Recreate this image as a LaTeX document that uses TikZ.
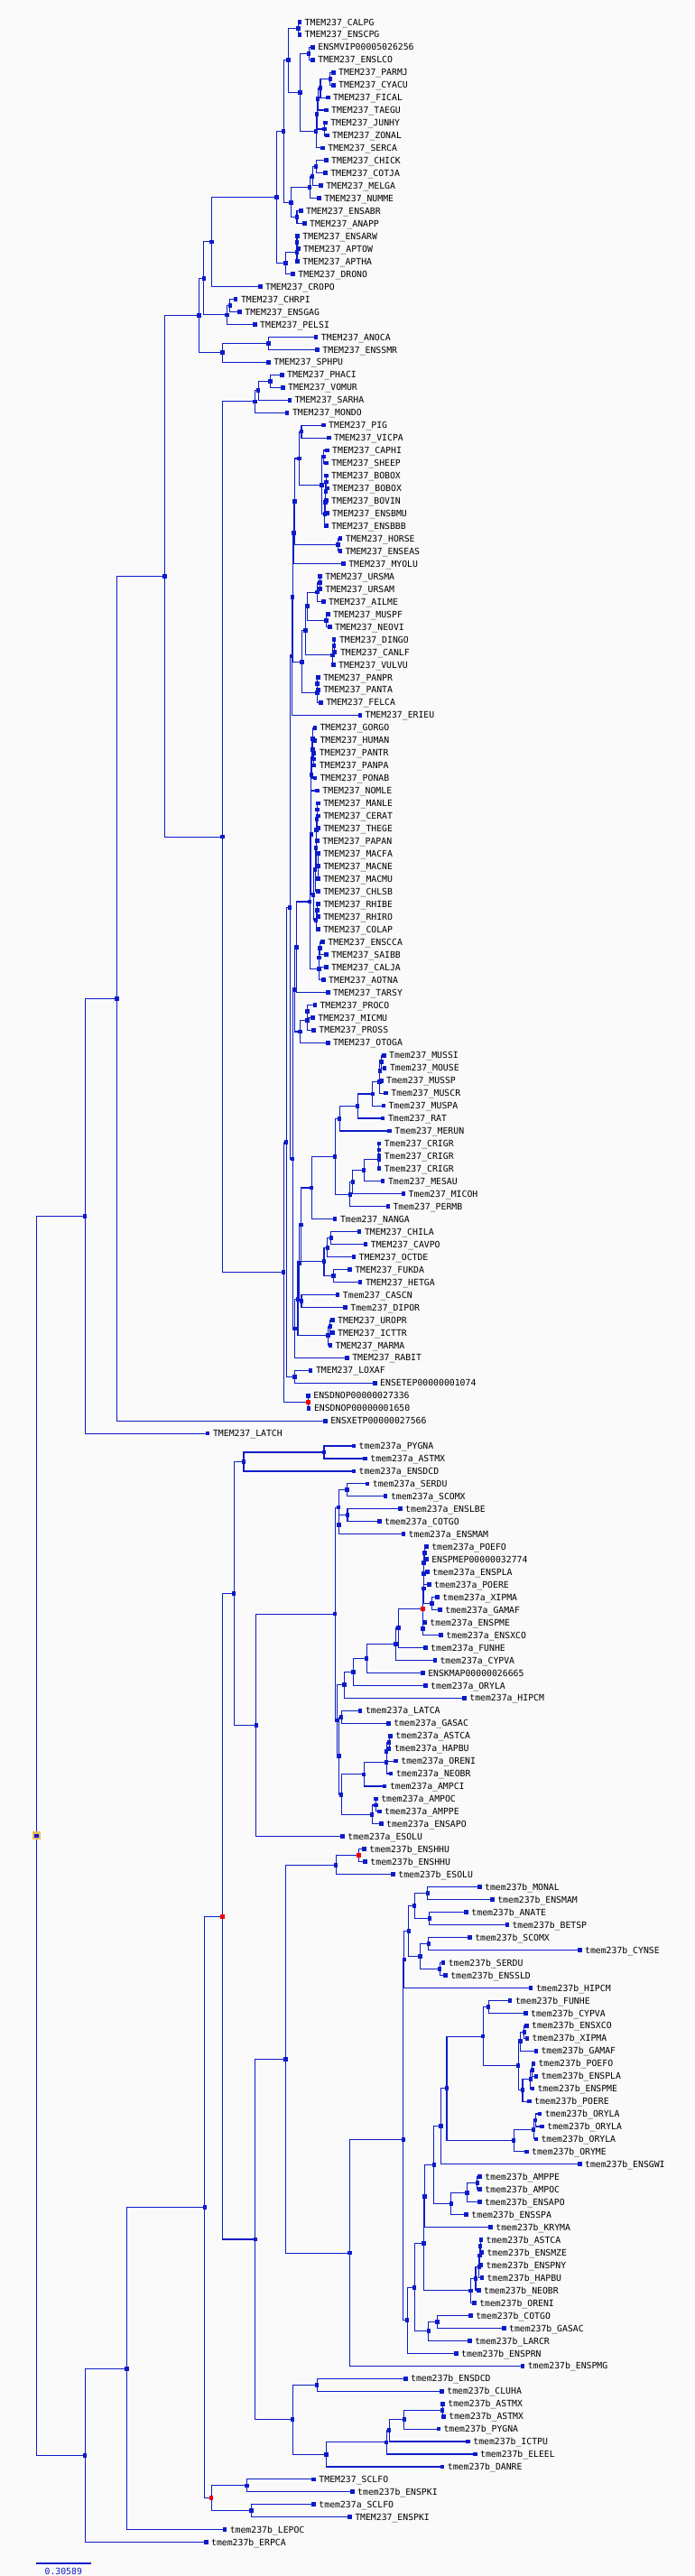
\documentclass[tikz,border=0pt]{standalone}
\usepackage{fontspec}
\newfontfamily\lblfont{DejaVu Sans Mono}
\usetikzlibrary{calc}
\pgfdeclarelayer{back}
\pgfdeclarelayer{bg}
\pgfsetlayers{back,bg,main}
\definecolor{tb}{RGB}{12,28,200}
\definecolor{bgc}{RGB}{250,250,250}
\definecolor{goldc}{RGB}{230,190,90}
\definecolor{redc}{RGB}{240,0,0}
\tikzset{
 mk/.style={rectangle, fill=tb, inner sep=0pt, minimum width=4.4pt, minimum height=4.8pt},
 mkred/.style={mk, fill=redc},
 mkroot/.style={rectangle, fill=tb, draw=goldc, line width=2.2pt, inner sep=0pt, minimum width=7pt, minimum height=6.5pt},
 edge/.style={draw=tb, line width=1.1pt},
 lbl/.style={anchor=base west, inner sep=0pt, text=black, font=\lblfont\fontsize{9.8}{10}\selectfont},
}
\newcommand\LF[4]{%
 \node[mk] (#1) at (#3,{-(24.3+13.962*(#2-1))}) {};
 \node[lbl] (#1t) at ([xshift=5.6pt,yshift=-3.7pt]#1.center) {\detokenize{#4}};}
\newcommand\TN[5][mk]{%
 \path let \p1=(#4), \p2=(#5) in node[#1] (#2) at (#3,{0.5*(\y1+\y2)}) {};
 \begin{pgfonlayer}{bg}
 \draw[edge] (#2.center) |- (#4.center);
 \draw[edge] (#2.center) |- (#5.center);
 \end{pgfonlayer}}
\newcommand\TNM[6][mk]{%
 \path let \p1=(#4), \p2=(#6) in node[#1] (#2) at (#3,{0.5*(\y1+\y2)}) {};
 \begin{pgfonlayer}{bg}
 \draw[edge] (#2.center) |- (#4.center);
 \draw[edge] (#2.center) |- (#5.center);
 \draw[edge] (#2.center) |- (#6.center);
 \end{pgfonlayer}}
\begin{document}
\begin{tikzpicture}[x=1.4732pt,y=1pt]
\begin{pgfonlayer}{back}
\fill[bgc] (0,0) rectangle (522.67,-2854);
\end{pgfonlayer}
\useasboundingbox (0,0) rectangle (522.67,-2854);
% leaves
\LF{l1}{1}{225.3}{TMEM237_CALPG}
\LF{l2}{2}{225.3}{TMEM237_ENSCPG}
\LF{l3}{3}{235.3}{ENSMVIP00005026256}
\LF{l4}{4}{235.3}{TMEM237_ENSLCO}
\LF{l5}{5}{250.7}{TMEM237_PARMJ}
\LF{l6}{6}{250.7}{TMEM237_CYACU}
\LF{l7}{7}{246.7}{TMEM237_FICAL}
\LF{l8}{8}{245.3}{TMEM237_TAEGU}
\LF{l9}{9}{244.7}{TMEM237_JUNHY}
\LF{l10}{10}{246}{TMEM237_ZONAL}
\LF{l11}{11}{242.7}{TMEM237_SERCA}
\LF{l12}{12}{245.3}{TMEM237_CHICK}
\LF{l13}{13}{244.7}{TMEM237_COTJA}
\LF{l14}{14}{241.3}{TMEM237_MELGA}
\LF{l15}{15}{240}{TMEM237_NUMME}
\LF{l16}{16}{226.3}{TMEM237_ENSABR}
\LF{l17}{17}{229}{TMEM237_ANAPP}
\LF{l18}{18}{223.7}{TMEM237_ENSARW}
\LF{l19}{19}{224.3}{TMEM237_APTOW}
\LF{l20}{20}{223.7}{TMEM237_APTHA}
\LF{l21}{21}{220.3}{TMEM237_DRONO}
\LF{l22}{22}{195.7}{TMEM237_CROPO}
\LF{l23}{23}{177.3}{TMEM237_CHRPI}
\LF{l24}{24}{180.3}{TMEM237_ENSGAG}
\LF{l25}{25}{191.7}{TMEM237_PELSI}
\LF{l26}{26}{237.7}{TMEM237_ANOCA}
\LF{l27}{27}{238.7}{TMEM237_ENSSMR}
\LF{l28}{28}{202}{TMEM237_SPHPU}
\LF{l29}{29}{212}{TMEM237_PHACI}
\LF{l30}{30}{212.7}{TMEM237_VOMUR}
\LF{l31}{31}{217.7}{TMEM237_SARHA}
\LF{l32}{32}{216}{TMEM237_MONDO}
\LF{l33}{33}{243.3}{TMEM237_PIG}
\LF{l34}{34}{247.3}{TMEM237_VICPA}
\LF{l35}{35}{246}{TMEM237_CAPHI}
\LF{l36}{36}{245.3}{TMEM237_SHEEP}
\LF{l37}{37}{245.3}{TMEM237_BOBOX}
\LF{l38}{38}{246}{TMEM237_BOBOX}
\LF{l39}{39}{245.3}{TMEM237_BOVIN}
\LF{l40}{40}{246}{TMEM237_ENSBMU}
\LF{l41}{41}{245.3}{TMEM237_ENSBBB}
\LF{l42}{42}{256}{TMEM237_HORSE}
\LF{l43}{43}{255.7}{TMEM237_ENSEAS}
\LF{l44}{44}{258.3}{TMEM237_MYOLU}
\LF{l45}{45}{240.7}{TMEM237_URSMA}
\LF{l46}{46}{240.7}{TMEM237_URSAM}
\LF{l47}{47}{243.3}{TMEM237_AILME}
\LF{l48}{48}{246.7}{TMEM237_MUSPF}
\LF{l49}{49}{248}{TMEM237_NEOVI}
\LF{l50}{50}{251.3}{TMEM237_DINGO}
\LF{l51}{51}{252}{TMEM237_CANLF}
\LF{l52}{52}{250.7}{TMEM237_VULVU}
\LF{l53}{53}{239.3}{TMEM237_PANPR}
\LF{l54}{54}{239.3}{TMEM237_PANTA}
\LF{l55}{55}{241.3}{TMEM237_FELCA}
\LF{l56}{56}{270.7}{TMEM237_ERIEU}
\LF{l57}{57}{236.7}{TMEM237_GORGO}
\LF{l58}{58}{236.7}{TMEM237_HUMAN}
\LF{l59}{59}{236.2}{TMEM237_PANTR}
\LF{l60}{60}{236.2}{TMEM237_PANPA}
\LF{l61}{61}{236.7}{TMEM237_PONAB}
\LF{l62}{62}{238.7}{TMEM237_NOMLE}
\LF{l63}{63}{239.3}{TMEM237_MANLE}
\LF{l64}{64}{239.3}{TMEM237_CERAT}
\LF{l65}{65}{239.3}{TMEM237_THEGE}
\LF{l66}{66}{238.7}{TMEM237_PAPAN}
\LF{l67}{67}{239.3}{TMEM237_MACFA}
\LF{l68}{68}{239.3}{TMEM237_MACNE}
\LF{l69}{69}{239.3}{TMEM237_MACMU}
\LF{l70}{70}{239.3}{TMEM237_CHLSB}
\LF{l71}{71}{239.3}{TMEM237_RHIBE}
\LF{l72}{72}{239.3}{TMEM237_RHIRO}
\LF{l73}{73}{239.3}{TMEM237_COLAP}
\LF{l74}{74}{242.7}{TMEM237_ENSCCA}
\LF{l75}{75}{245.3}{TMEM237_SAIBB}
\LF{l76}{76}{245.3}{TMEM237_CALJA}
\LF{l77}{77}{243.3}{TMEM237_AOTNA}
\LF{l78}{78}{246.7}{TMEM237_TARSY}
\LF{l79}{79}{236.7}{TMEM237_PROCO}
\LF{l80}{80}{235.3}{TMEM237_MICMU}
\LF{l81}{81}{236}{TMEM237_PROSS}
\LF{l82}{82}{246.7}{TMEM237_OTOGA}
\LF{l83}{83}{288.7}{Tmem237_MUSSI}
\LF{l84}{84}{289.3}{Tmem237_MOUSE}
\LF{l85}{85}{286.7}{Tmem237_MUSSP}
\LF{l86}{86}{290.3}{Tmem237_MUSCR}
\LF{l87}{87}{288.3}{Tmem237_MUSPA}
\LF{l88}{88}{288}{Tmem237_RAT}
\LF{l89}{89}{293}{Tmem237_MERUN}
\LF{l90}{90}{285.2}{Tmem237_CRIGR}
\LF{l91}{91}{285.2}{Tmem237_CRIGR}
\LF{l92}{92}{285.2}{Tmem237_CRIGR}
\LF{l93}{93}{288}{Tmem237_MESAU}
\LF{l94}{94}{303.3}{Tmem237_MICOH}
\LF{l95}{95}{291.7}{Tmem237_PERMB}
\LF{l96}{96}{252}{Tmem237_NANGA}
\LF{l97}{97}{270.3}{TMEM237_CHILA}
\LF{l98}{98}{275}{TMEM237_CAVPO}
\LF{l99}{99}{266}{TMEM237_OCTDE}
\LF{l100}{100}{263}{TMEM237_FUKDA}
\LF{l101}{101}{271}{TMEM237_HETGA}
\LF{l102}{102}{254}{Tmem237_CASCN}
\LF{l103}{103}{259.7}{Tmem237_DIPOR}
\LF{l104}{104}{250}{TMEM237_UROPR}
\LF{l105}{105}{250}{TMEM237_ICTTR}
\LF{l106}{106}{248.3}{TMEM237_MARMA}
\LF{l107}{107}{261}{TMEM237_RABIT}
\LF{l108}{108}{233.7}{TMEM237_LOXAF}
\LF{l109}{109}{282}{ENSETEP00000001074}
\LF{l110}{110}{231.9}{ENSDNOP00000027336}
\LF{l111}{111}{232.3}{ENSDNOP00000001650}
\LF{l112}{112}{244.7}{ENSXETP00000027566}
\LF{l113}{113}{156.3}{TMEM237_LATCH}
\LF{l114}{114}{266}{tmem237a_PYGNA}
\LF{l115}{115}{274.7}{tmem237a_ASTMX}
\LF{l116}{116}{266}{tmem237a_ENSDCD}
\LF{l117}{117}{276.3}{tmem237a_SERDU}
\LF{l118}{118}{290}{tmem237a_SCOMX}
\LF{l119}{119}{301}{tmem237a_ENSLBE}
\LF{l120}{120}{285.3}{tmem237a_COTGO}
\LF{l121}{121}{303.3}{tmem237a_ENSMAM}
\LF{l122}{122}{320.7}{tmem237a_POEFO}
\LF{l123}{123}{320.7}{ENSPMEP00000032774}
\LF{l124}{124}{321.3}{tmem237a_ENSPLA}
\LF{l125}{125}{322.7}{tmem237a_POERE}
\LF{l126}{126}{329}{tmem237a_XIPMA}
\LF{l127}{127}{331}{tmem237a_GAMAF}
\LF{l128}{128}{319.5}{tmem237a_ENSPME}
\LF{l129}{129}{331.7}{tmem237a_ENSXCO}
\LF{l130}{130}{320}{tmem237a_FUNHE}
\LF{l131}{131}{327}{tmem237a_CYPVA}
\LF{l132}{132}{318}{ENSKMAP00000026665}
\LF{l133}{133}{320}{tmem237a_ORYLA}
\LF{l134}{134}{349.3}{tmem237a_HIPCM}
\LF{l135}{135}{271}{tmem237a_LATCA}
\LF{l136}{136}{292.3}{tmem237a_GASAC}
\LF{l137}{137}{293.7}{tmem237a_ASTCA}
\LF{l138}{138}{292.7}{tmem237a_HAPBU}
\LF{l139}{139}{297.7}{tmem237a_ORENI}
\LF{l140}{140}{294}{tmem237a_NEOBR}
\LF{l141}{141}{289.3}{tmem237a_AMPCI}
\LF{l142}{142}{282.7}{tmem237a_AMPOC}
\LF{l143}{143}{285.3}{tmem237a_AMPPE}
\LF{l144}{144}{286.7}{tmem237a_ENSAPO}
\LF{l145}{145}{257.7}{tmem237a_ESOLU}
\LF{l146}{146}{274}{tmem237b_ENSHHU}
\LF{l147}{147}{274.7}{tmem237b_ENSHHU}
\LF{l148}{148}{295.7}{tmem237b_ESOLU}
\LF{l149}{149}{360.7}{tmem237b_MONAL}
\LF{l150}{150}{370.3}{tmem237b_ENSMAM}
\LF{l151}{151}{350.7}{tmem237b_ANATE}
\LF{l152}{152}{381.3}{tmem237b_BETSP}
\LF{l153}{153}{353.3}{tmem237b_SCOMX}
\LF{l154}{154}{436}{tmem237b_CYNSE}
\LF{l155}{155}{333.3}{tmem237b_SERDU}
\LF{l156}{156}{335}{tmem237b_ENSSLD}
\LF{l157}{157}{399.3}{tmem237b_HIPCM}
\LF{l158}{158}{383.7}{tmem237b_FUNHE}
\LF{l159}{159}{395.3}{tmem237b_CYPVA}
\LF{l160}{160}{396}{tmem237b_ENSXCO}
\LF{l161}{161}{396.3}{tmem237b_XIPMA}
\LF{l162}{162}{403}{tmem237b_GAMAF}
\LF{l163}{163}{401}{tmem237b_POEFO}
\LF{l164}{164}{403}{tmem237b_ENSPLA}
\LF{l165}{165}{400.3}{tmem237b_ENSPME}
\LF{l166}{166}{398}{tmem237b_POERE}
\LF{l167}{167}{406}{tmem237b_ORYLA}
\LF{l168}{168}{407.7}{tmem237b_ORYLA}
\LF{l169}{169}{403}{tmem237b_ORYLA}
\LF{l170}{170}{396}{tmem237b_ORYME}
\LF{l171}{171}{436}{tmem237b_ENSGWI}
\LF{l172}{172}{360.9}{tmem237b_AMPPE}
\LF{l173}{173}{360.9}{tmem237b_AMPOC}
\LF{l174}{174}{360.7}{tmem237b_ENSAPO}
\LF{l175}{175}{350.7}{tmem237b_ENSSPA}
\LF{l176}{176}{369}{tmem237b_KRYMA}
\LF{l177}{177}{361.7}{tmem237b_ASTCA}
\LF{l178}{178}{362.3}{tmem237b_ENSMZE}
\LF{l179}{179}{361.7}{tmem237b_ENSPNY}
\LF{l180}{180}{362.3}{tmem237b_HAPBU}
\LF{l181}{181}{360}{tmem237b_NEOBR}
\LF{l182}{182}{356.7}{tmem237b_ORENI}
\LF{l183}{183}{354}{tmem237b_COTGO}
\LF{l184}{184}{379}{tmem237b_GASAC}
\LF{l185}{185}{353.3}{tmem237b_LARCR}
\LF{l186}{186}{343}{tmem237b_ENSPRN}
\LF{l187}{187}{393}{tmem237b_ENSPMG}
\LF{l188}{188}{305}{tmem237b_ENSDCD}
\LF{l189}{189}{332.3}{tmem237b_CLUHA}
\LF{l190}{190}{333}{tmem237b_ASTMX}
\LF{l191}{191}{333.7}{tmem237b_ASTMX}
\LF{l192}{192}{329.7}{tmem237b_PYGNA}
\LF{l193}{193}{352}{tmem237b_ICTPU}
\LF{l194}{194}{357.3}{tmem237b_ELEEL}
\LF{l195}{195}{332.7}{tmem237b_DANRE}
\LF{l196}{196}{236}{TMEM237_SCLFO}
\LF{l197}{197}{265}{tmem237b_ENSPKI}
\LF{l198}{198}{236}{tmem237a_SCLFO}
\LF{l199}{199}{263}{TMEM237_ENSPKI}
\LF{l200}{200}{169}{tmem237b_LEPOC}
\LF{l201}{201}{155}{tmem237b_ERPCA}
% birds and reptiles
\TN{a1}{224.3}{l1}{l2}
\TN{a2}{232.3}{l3}{l4}
\TN{a3}{248.3}{l5}{l6}
\TN{a4}{241}{a3}{l7}
\TN{a5}{239}{a4}{l8}
\TN{a6}{244}{l9}{l10}
\TN{a7}{238.3}{a5}{a6}
\TN{a8}{237.7}{a7}{l11}
\TN{a9}{225.7}{a2}{a8}
\TN{a10}{217}{a1}{a9}
\TN{b1}{237.7}{l12}{l13}
\TN{b2}{235}{b1}{l14}
\TN{b3}{233}{b2}{l15}
\TN{b4}{223.3}{l16}{l17}
\TN{b5}{219}{b3}{b4}
\TN{c1}{213.3}{a10}{b5}
\TN{d1}{223.3}{l18}{l19}
\TN{d2}{223.3}{d1}{l20}
\TN{d3}{214.7}{d2}{l21}
\TN{c2}{208}{c1}{d3}
\TN{c3}{159.3}{c2}{l22}
\TN{e1}{173}{l23}{l24}
\TN{e2}{170.7}{e1}{l25}
\TN{c4}{153.3}{c3}{e2}
\TN{f1}{202}{l26}{l27}
\TN{f2}{167.3}{f1}{l28}
\TN{c5}{149.7}{c4}{f2}
% marsupials
\TN{p3}{203.3}{l29}{l30}
\TN{p2}{194.3}{p3}{l31}
\TN{p1}{191.7}{p2}{l32}
% laurasiatheria
\TN{cet1}{226.7}{l33}{l34}
\TN{bv1}{243.3}{l35}{l36}
\TN{bv2}{245.3}{l37}{l38}
\TN{bv3}{245}{bv2}{l39}
\TN{bv4}{244.7}{bv3}{l40}
\TN{bv5}{244.3}{bv4}{l41}
\TN{bov}{242}{bv1}{bv5}
\TN{cet2}{225}{cet1}{bov}
\TN{hor}{254.3}{l42}{l43}
\TN{cet3}{221.7}{cet2}{hor}
\TN{lau2}{221}{cet3}{l44}
\TN{ur1}{240.7}{l45}{l46}
\TN{ur2}{238.7}{ur1}{l47}
\TN{mu1}{245.3}{l48}{l49}
\TN{ca1}{231}{ur2}{mu1}
\TN{cn1}{251.3}{l50}{l51}
\TN{cn2}{250}{cn1}{l52}
\TN{ca2}{229.7}{ca1}{cn2}
\TN{fe1}{238.7}{l53}{l54}
\TN{fe2}{238.7}{fe1}{l55}
\TN{carn}{227}{ca2}{fe2}
\TN{lau1}{220}{lau2}{carn}
\TN{lau0}{219.3}{lau1}{l56}
% primates
\TN{ho1}{236}{l59}{l60}
\TN{ho2}{235.3}{l58}{ho1}
\TN{ho3}{235.3}{l57}{ho2}
\TN{ho4}{234.7}{ho3}{l61}
\TN{hom}{234}{ho4}{l62}
\TN{pa1}{238.7}{l63}{l64}
\TN{pa2}{238.3}{pa1}{l65}
\TN{pa3}{238}{pa2}{l66}
\TNM{mac}{239}{l67}{l68}{l69}
\TN{papi}{237.7}{pa3}{mac}
\TN{cerc1}{237}{papi}{l70}
\TN{co1}{238.7}{l71}{l72}
\TN{co2}{237.7}{co1}{l73}
\TN{cerc}{235.7}{cerc1}{co2}
\TN{cat}{234}{hom}{cerc}
\TN{pl1}{240.7}{l74}{l75}
\TN{pl2}{240}{pl1}{l76}
\TN{pl3}{240}{pl2}{l77}
\TN{sim}{233}{cat}{pl3}
\TN{hap}{223}{sim}{l78}
\TN{le1}{231}{l79}{l80}
\TN{le2}{231}{le1}{l81}
\TN{str}{225.7}{le2}{l82}
\TN{prim}{221.7}{hap}{str}
% glires
\TN{ms1}{286.7}{l83}{l84}
\TN{ms2}{285.7}{ms1}{l85}
\TN{ms3}{285.3}{ms2}{l86}
\TN{ms4}{280.3}{ms3}{l87}
\TN{ms5}{269}{ms4}{l88}
\TN{mur}{255.3}{ms5}{l89}
\TN{cr1}{285}{l90}{l91}
\TN{cr2}{285}{cr1}{l92}
\TN{cr3}{273.7}{cr2}{l93}
\TN{cr4}{265.3}{cr3}{l94}
\TN{cric}{263.3}{cr4}{l95}
\TN{mc}{252}{mur}{cric}
\TN{muro}{234.3}{mc}{l96}
\TN{hy1}{249}{l97}{l98}
\TN{hy2}{246.3}{hy1}{l99}
\TN{hy3}{250.7}{l100}{l101}
\TN{hys}{243.7}{hy2}{hy3}
\TN{r2}{226.3}{muro}{hys}
\TN{r3}{226.7}{l102}{l103}
\TN{r1}{225}{r2}{r3}
\TN{sq1}{248.3}{l104}{l105}
\TN{sq}{246.7}{sq1}{l106}
\TN{rod}{224}{r1}{sq}
\TN{gli}{221.7}{rod}{l107}
\TN{euar}{220}{prim}{gli}
\TN{q2}{218}{lau0}{euar}
\TN{afro}{221.7}{l108}{l109}
\TN{q1}{215.3}{q2}{afro}
\TN[mkred]{dno}{231.7}{l110}{l111}
\TN{q0}{213.3}{q1}{dno}
\TN{m0}{167.3}{p1}{q0}
\TN{h1}{124}{c5}{m0}
\TN{t1}{88}{h1}{l112}
\TN{t2}{64}{t1}{l113}
% tmem237a
\TN{aa0}{243.7}{l114}{l115}
\TN{aa00}{183.3}{aa0}{l116}
\TN{aa1}{261}{l117}{l118}
\TN{aa2}{261.3}{l119}{l120}
\TN{aa3}{255}{aa2}{l121}
\TN{aa4}{254.7}{aa1}{aa3}
\TN{po1}{319.3}{l122}{l123}
\TN{po2}{318.7}{po1}{l124}
\TN{po3}{318.7}{po2}{l125}
\TN{xg}{324.7}{l126}{l127}
\TN{po4}{318.7}{po3}{xg}
\TN{pm}{318}{l128}{l129}
\TN[mkred]{pred}{318}{po4}{pm}
\TN{cy1}{299.7}{pred}{l130}
\TN{cy2}{297.7}{cy1}{l131}
\TN{cy3}{275.7}{cy2}{l132}
\TN{cy4}{265.7}{cy3}{l133}
\TN{cy5}{259}{cy4}{l134}
\TN{lg}{256.7}{l135}{l136}
\TN{ci1}{292.7}{l137}{l138}
\TN{ci2}{290.7}{ci1}{l139}
\TN{ci3}{290.7}{ci2}{l140}
\TN{ci4}{273.7}{ci3}{l141}
\TN{am1}{282.7}{l142}{l143}
\TN{am2}{279.7}{am1}{l144}
\TN{aa7}{256.7}{ci4}{am2}
\TN{aa6}{255}{lg}{aa7}
\TN{aa5}{253.3}{cy5}{aa6}
\TN{aa8}{252}{aa4}{aa5}
\TN{aa9}{192.7}{aa8}{l145}
\TN{aroot}{176}{aa00}{aa9}
% tmem237b
\TN[mkred]{hh}{269.7}{l146}{l147}
\TN{hh2}{252.7}{hh}{l148}
\TN{bb1}{321.7}{l149}{l150}
\TN{bb2}{323}{l151}{l152}
\TN{bb3}{311.7}{bb1}{bb2}
\TN{bb4}{322.3}{l153}{l154}
\TN{bb5}{330.7}{l155}{l156}
\TN{bb6}{316}{bb4}{bb5}
\TN{bb7}{307.3}{bb3}{bb6}
\TN{bb8}{304}{bb7}{l157}
\TN{fc}{367.3}{l158}{l159}
\TN{px1}{394.3}{l160}{l161}
\TN{px2}{391.3}{px1}{l162}
\TN{pp1}{400.3}{l163}{l164}
\TN{pp2}{399}{pp1}{l165}
\TN{pp3}{393}{pp2}{l166}
\TN{pp4}{389.7}{px2}{pp3}
\TN{pp5}{363.3}{fc}{pp4}
\TN{or1}{402.7}{l167}{l168}
\TN{or2}{401.3}{or1}{l169}
\TN{or3}{386.3}{or2}{l170}
\TN{at1}{336}{pp5}{or3}
\TN{at2}{331.7}{at1}{l171}
\TN{ab1}{359}{l172}{l173}
\TN{ab2}{351.3}{ab1}{l174}
\TN{ab3}{339.3}{ab2}{l175}
\TN{at3}{326.3}{at2}{ab3}
\TN{at4}{319.3}{at3}{l176}
\TN{cb1}{361.3}{l177}{l178}
\TN{cb2}{360.7}{cb1}{l179}
\TN{cb3}{360.3}{cb2}{l180}
\TN{cb4}{357.7}{cb3}{l181}
\TN{cb5}{354}{cb4}{l182}
\TN{at5}{318.7}{at4}{cb5}
\TN{cg1}{329}{l183}{l184}
\TN{cg2}{322.3}{cg1}{l185}
\TN{at6}{311.7}{at5}{cg2}
\TN{at7}{306.3}{at6}{l186}
\TN{bb9}{303.3}{bb8}{at7}
\TN{bb10}{263}{bb9}{l187}
\TN{bb11}{214.7}{hh2}{bb10}
\TN{ot1}{238.3}{l188}{l189}
\TN{ot2}{332.7}{l190}{l191}
\TN{ot3}{304}{ot2}{l192}
\TN{ot4}{292.7}{ot3}{l193}
\TN{ot5}{290.7}{ot4}{l194}
\TN{ot6}{245.3}{ot5}{l195}
\TN{ot7}{220}{ot1}{ot6}
\TN{broot}{192}{bb11}{ot7}
\TN[mkred]{fish}{167.3}{aroot}{broot}
\TN{sc1}{185.7}{l196}{l197}
\TN{sc2}{189}{l198}{l199}
\TN[mkred]{sc}{159}{sc1}{sc2}
\TN{g2}{154}{fish}{sc}
\TN{g1}{95.3}{g2}{l200}
\TN{g0}{64}{g1}{l201}
\TN[mkroot]{root}{27.3}{t2}{g0}
% scale bar
\coordinate (sb1) at (27.3,-2840);
\coordinate (sb2) at (68.3,-2840);
\draw[tb, line width=1.8pt] (sb1) -- (sb2);
\node[lbl, text=tb, anchor=base] (sbt) at (47.7,-2852) {0.30589};
\end{tikzpicture}
\end{document}
